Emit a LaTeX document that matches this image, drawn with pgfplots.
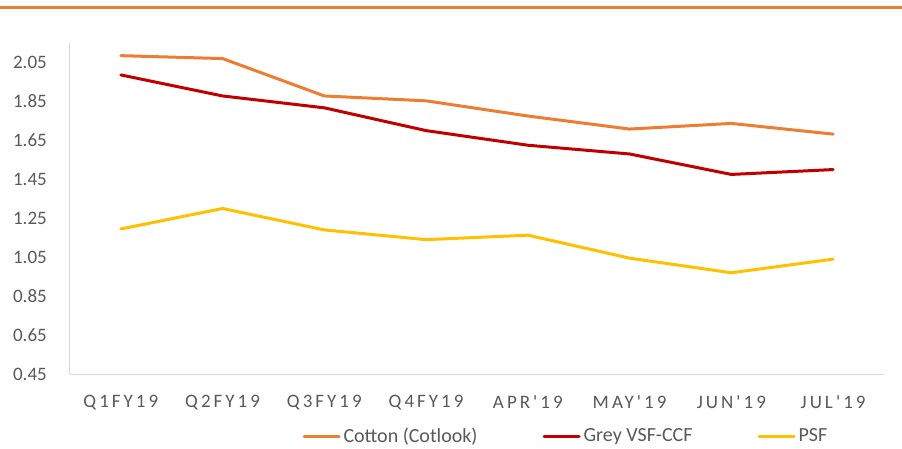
\documentclass[border=0pt]{standalone}
\usepackage{pgfplots}
\pgfplotsset{compat=1.18}
\usepackage{fontspec}
\setmainfont{Carlito}
\newfontfamily\spaced[LetterSpace=16,Ligatures=TeXOff]{Carlito}
\definecolor{cot}{RGB}{237,125,49}
\definecolor{vsf}{RGB}{192,0,0}
\definecolor{psf}{RGB}{255,192,0}
\definecolor{txt}{RGB}{89,89,89}
\definecolor{axl}{RGB}{217,217,217}
\begin{document}
\fontsize{19}{23}\selectfont
\begin{tikzpicture}
\useasboundingbox (-70pt,-74pt) rectangle (832pt,374pt);
\draw[cot, line width=3pt] (-70pt,366pt) -- (832pt,366pt);
\begin{axis}[
  at={(0pt,0pt)}, anchor=south west,
  scale only axis, width=814pt, height=331pt,
  xmin=-0.5, xmax=7.5, ymin=0.45, ymax=2.15,
  xtick={0,...,7},
  xticklabels={Q1FY19,Q2FY19,Q3FY19,Q4FY19,APR'19,MAY'19,JUN'19,JUL'19},
  ytick={0.45,0.65,0.85,1.05,1.25,1.45,1.65,1.85,2.05},
  yticklabels={0.45,0.65,0.85,1.05,1.25,1.45,1.65,1.85,2.05},
  axis x line*=bottom, axis y line*=left,
  axis line style={axl, line width=1pt, -},
  major tick length=0pt,
  tick label style={text=txt},
  yticklabel style={font=\fontsize{19}{23}\selectfont, inner sep=0pt, xshift=-23pt},
  xticklabel style={font=\fontsize{19}{23}\selectfont\spaced, inner sep=0pt, yshift=-21pt},
  legend style={at={(axis description cs:0.608,-0.189)}, anchor=center,
    draw=none, fill=none, legend columns=3,
    font=\fontsize{20}{24}\selectfont, text=txt,
    nodes={inner sep=0pt},
    /tikz/every odd column/.append style={column sep=3pt},
    /tikz/every even column/.append style={column sep=65pt}},
  legend image code/.code={\draw[#1] (0pt,0pt) -- (35pt,0pt);},
  every axis plot/.append style={line width=3pt, line join=round, line cap=round},
]
\addplot[cot] coordinates {(0,2.085) (1,2.07) (2,1.878) (3,1.853) (4,1.775) (5,1.708) (6,1.737) (7,1.682)};
\addlegendentry{Cotton (Cotlook)}
\addplot[vsf] coordinates {(0,1.986) (1,1.878) (2,1.817) (3,1.70) (4,1.625) (5,1.58) (6,1.475) (7,1.50)};
\addlegendentry{Grey VSF-CCF}
\addplot[psf] coordinates {(0,1.195) (1,1.30) (2,1.19) (3,1.14) (4,1.163) (5,1.045) (6,0.97) (7,1.04)};
\addlegendentry{PSF}
\end{axis}
\end{tikzpicture}
\end{document}
